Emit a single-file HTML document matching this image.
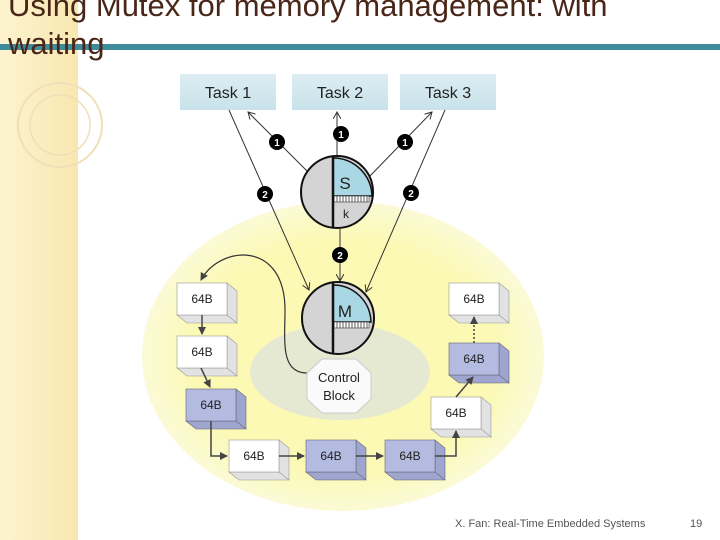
<!DOCTYPE html>
<html><head><style>
html,body{margin:0;padding:0;background:#fff;}
svg{display:block;}
text{font-family:"Liberation Sans",sans-serif;}
</style></head><body>
<svg width="720" height="540" viewBox="0 0 720 540" xmlns="http://www.w3.org/2000/svg">
<defs>
<linearGradient id="side" x1="0" x2="1"><stop offset="0" stop-color="#fdf3cf"/><stop offset="1" stop-color="#f8e7b0"/></linearGradient>
<linearGradient id="task" x1="0" y1="0" x2="0" y2="1"><stop offset="0" stop-color="#dcedf3"/><stop offset="1" stop-color="#c9e2ea"/></linearGradient>
<radialGradient id="yel" cx="0.5" cy="0.5" r="0.5"><stop offset="0.75" stop-color="#fbf9b4"/><stop offset="1" stop-color="#fbfad6"/></radialGradient>
<pattern id="hatch" width="3" height="6" patternUnits="userSpaceOnUse"><rect width="3" height="6" fill="#fff"/><line x1="1" y1="0" x2="1" y2="6" stroke="#333" stroke-width="0.8"/></pattern>
<marker id="ar" markerWidth="8" markerHeight="8" refX="7" refY="4" orient="auto" markerUnits="userSpaceOnUse"><path d="M0,0 L7,4 L0,8" fill="none" stroke="#333" stroke-width="1"/></marker>
<marker id="ab" markerWidth="8" markerHeight="8" refX="7" refY="4" orient="auto" markerUnits="userSpaceOnUse"><path d="M0,0 L8,4 L0,8 z" fill="#444"/></marker>
</defs>
<rect x="0" y="0" width="78" height="540" fill="url(#side)"/>
<circle cx="60" cy="125" r="42" fill="none" stroke="#efe0b8" stroke-width="2"/>
<circle cx="60" cy="125" r="30" fill="none" stroke="#efe0b8" stroke-width="1.5"/>
<rect x="0" y="44" width="720" height="6" fill="#3e8b9b"/>
<text x="8" y="16" font-size="31" fill="#4a2618">Using Mutex for memory management: with</text>
<text x="8" y="54" font-size="31" fill="#4a2618">waiting</text>

<ellipse cx="343" cy="356" rx="201" ry="155" fill="url(#yel)"/>
<ellipse cx="340" cy="372" rx="90" ry="48" fill="#e6e9d2"/>

<g font-size="16" fill="#222" text-anchor="middle">
<rect x="180" y="74" width="96" height="36" fill="url(#task)"/><text x="228" y="98">Task 1</text>
<rect x="292" y="74" width="96" height="36" fill="url(#task)"/><text x="340" y="98">Task 2</text>
<rect x="400" y="74" width="96" height="36" fill="url(#task)"/><text x="448" y="98">Task 3</text>
</g>

<g stroke="#333" stroke-width="1" fill="none">
<line x1="309" y1="173" x2="248" y2="112" marker-end="url(#ar)"/>
<line x1="337" y1="155" x2="337" y2="112" marker-end="url(#ar)"/>
<line x1="370" y1="176" x2="432" y2="112" marker-end="url(#ar)"/>
<line x1="229" y1="110" x2="309" y2="290" marker-end="url(#ar)"/>
<line x1="445" y1="110" x2="366" y2="292" marker-end="url(#ar)"/>
<line x1="340" y1="229" x2="340" y2="281" marker-end="url(#ar)"/>
</g>
<path d="M307,373 C280,373 285,340 285,310 C285,240 220,245 201,280" stroke="#333" fill="none" stroke-width="1.2" marker-end="url(#ab)"/>

<circle cx="337" cy="192" r="36" fill="#d4d4d4" stroke="#111" stroke-width="2"/>
<path d="M333,158 L333,196 L372,196 A39,39 0 0 0 333,158 z" fill="#a9d8e4" stroke="#111" stroke-width="1.5"/>
<rect x="333" y="196" width="36" height="6" fill="url(#hatch)" stroke="#333" stroke-width="0.6"/>
<line x1="333" y1="156" x2="333" y2="228" stroke="#111" stroke-width="2.5"/>
<text x="345" y="189" font-size="17" text-anchor="middle" fill="#222">S</text>
<text x="346" y="218" font-size="12" text-anchor="middle" fill="#222">k</text>

<circle cx="338" cy="318" r="36" fill="#d4d4d4" stroke="#111" stroke-width="2"/>
<path d="M333,285 L333,322 L371,322 A38,38 0 0 0 333,285 z" fill="#a9d8e4" stroke="#111" stroke-width="1.5"/>
<rect x="333" y="322" width="36" height="6" fill="url(#hatch)" stroke="#333" stroke-width="0.6"/>
<line x1="333" y1="283" x2="333" y2="354" stroke="#111" stroke-width="2.5"/>
<text x="345" y="317" font-size="17" text-anchor="middle" fill="#222">M</text>

<g font-size="10" font-weight="bold" fill="#fff" text-anchor="middle">
<circle cx="277" cy="142" r="8" fill="#000"/><text x="277" y="146">1</text>
<circle cx="341" cy="134" r="8" fill="#000"/><text x="341" y="138">1</text>
<circle cx="405" cy="142" r="8" fill="#000"/><text x="405" y="146">1</text>
<circle cx="265" cy="194" r="8" fill="#000"/><text x="265" y="198">2</text>
<circle cx="411" cy="193" r="8" fill="#000"/><text x="411" y="197">2</text>
<circle cx="340" cy="255" r="8" fill="#000"/><text x="340" y="259">2</text>
</g>

<polygon points="322,359 356,359 371,373 371,399 356,413 322,413 307,399 307,373" fill="#fafafa" stroke="#ccc"/>
<text x="339" y="382" font-size="13" text-anchor="middle" fill="#222">Control</text>
<text x="339" y="400" font-size="13" text-anchor="middle" fill="#222">Block</text>

<g stroke="#999" stroke-width="0.6">
<g fill="#e2e2e2"><path d="M177,315 l50,0 l10,8 l-50,0 z M227,283 l10,8 l0,32 l-10,-8 z"/>
<path d="M177,368 l50,0 l10,8 l-50,0 z M227,336 l10,8 l0,32 l-10,-8 z"/>
<path d="M229,472 l50,0 l10,8 l-50,0 z M279,440 l10,8 l0,32 l-10,-8 z"/>
<path d="M431,429 l50,0 l10,8 l-50,0 z M481,397 l10,8 l0,32 l-10,-8 z"/>
<path d="M449,315 l50,0 l10,8 l-50,0 z M499,283 l10,8 l0,32 l-10,-8 z"/></g>
<g fill="#fff"><rect x="177" y="283" width="50" height="32"/><rect x="177" y="336" width="50" height="32"/><rect x="229" y="440" width="50" height="32"/><rect x="431" y="397" width="50" height="32"/><rect x="449" y="283" width="50" height="32"/></g>
<g fill="#9ea5cf" stroke="#667"><path d="M186,421 l50,0 l10,8 l-50,0 z M236,389 l10,8 l0,32 l-10,-8 z"/>
<path d="M306,472 l50,0 l10,8 l-50,0 z M356,440 l10,8 l0,32 l-10,-8 z"/>
<path d="M385,472 l50,0 l10,8 l-50,0 z M435,440 l10,8 l0,32 l-10,-8 z"/>
<path d="M449,375 l50,0 l10,8 l-50,0 z M499,343 l10,8 l0,32 l-10,-8 z"/></g>
<g fill="#b4bbe0" stroke="#667"><rect x="186" y="389" width="50" height="32"/><rect x="306" y="440" width="50" height="32"/><rect x="385" y="440" width="50" height="32"/><rect x="449" y="343" width="50" height="32"/></g>
</g>
<g font-size="12" text-anchor="middle" fill="#222">
<text x="202" y="303">64B</text><text x="202" y="356">64B</text><text x="211" y="409">64B</text>
<text x="254" y="460">64B</text><text x="331" y="460">64B</text><text x="410" y="460">64B</text>
<text x="456" y="417">64B</text><text x="474" y="363">64B</text><text x="474" y="303">64B</text>
</g>
<g stroke="#444" stroke-width="1.5" fill="none">
<line x1="202" y1="315" x2="202" y2="334" marker-end="url(#ab)"/>
<line x1="201" y1="368" x2="210" y2="387" marker-end="url(#ab)"/>
<path d="M211,421 L211,456 L227,456" marker-end="url(#ab)"/>
<line x1="279" y1="456" x2="304" y2="456" marker-end="url(#ab)"/>
<line x1="356" y1="456" x2="383" y2="456" marker-end="url(#ab)"/>
<path d="M435,456 L456,456 L456,431" marker-end="url(#ab)"/>
<line x1="456" y1="397" x2="473" y2="377" marker-end="url(#ab)"/>
<line x1="474" y1="343" x2="474" y2="317" stroke-dasharray="2,2" marker-end="url(#ab)"/>
</g>

<text x="455" y="527" font-size="11" fill="#555">X. Fan: Real-Time Embedded Systems</text>
<text x="690" y="527" font-size="11" fill="#555">19</text>
</svg>
</body></html>
